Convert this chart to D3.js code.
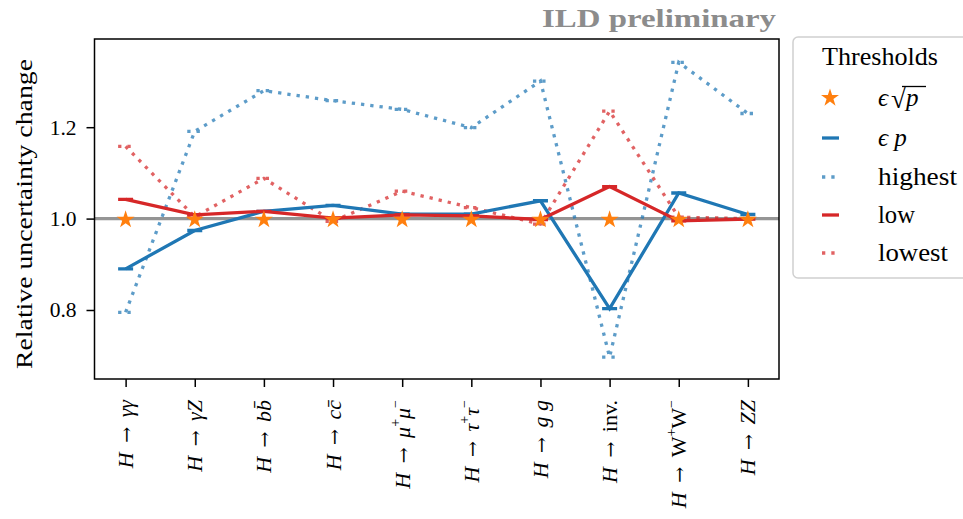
<!DOCTYPE html>
<html>
<head>
<meta charset="utf-8">
<script src="https://cdn.jsdelivr.net/npm/d3@7"></script>
<style>
  html, body { margin: 0; padding: 0; background: #fff; }
  svg { display: block; font-family: "Liberation Serif", "DejaVu Serif", serif; }
</style>
</head>
<body>
<svg id="chart" width="963" height="519"></svg>
<script>
// Higgs decay channels
const channels = [
  [["H", "i"], ["\u2002\u2192\u2002", "a"], ["\u03b3\u03b3", "i"]],
  [["H", "i"], ["\u2002\u2192\u2002", "a"], ["\u03b3Z", "i"]],
  [["H", "i"], ["\u2002\u2192\u2002", "a"], ["b", "i"], ["b\u0304", "i"]],
  [["H", "i"], ["\u2002\u2192\u2002", "a"], ["c", "i"], ["c\u0304", "i"]],
  [["H", "i"], ["\u2002\u2192\u2002", "a"], ["\u03bc", "i"], ["+", "sup"], ["\u03bc", "i"], ["\u2212", "sup"]],
  [["H", "i"], ["\u2002\u2192\u2002", "a"], ["\u03c4", "i"], ["+", "sup"], ["\u03c4", "i"], ["\u2212", "sup"]],
  [["H", "i"], ["\u2002\u2192\u2002", "a"], ["g g", "i"]],
  [["H", "i"], ["\u2002\u2192\u2002", "a"], ["inv.", "r"]],
  [["H", "i"], ["\u2002\u2192\u2002", "a"], ["W", "r"], ["+", "sup"], ["W", "r"], ["\u2212", "sup"]],
  [["H", "i"], ["\u2002\u2192\u2002", "a"], ["ZZ", "i"]]
];

// Relative uncertainty change per channel, for each threshold choice
const epsSqrtP = [1.0, 1.0, 1.0, 1.0, 1.0, 1.0, 1.0, 1.0, 1.0, 1.0];
const epsP     = [0.890, 0.974, 1.016, 1.029, 1.010, 1.010, 1.039, 0.803, 1.056, 1.009];
const highest  = [0.795, 1.191, 1.280, 1.258, 1.239, 1.199, 1.301, 0.697, 1.342, 1.230];
const low      = [1.042, 1.008, 1.016, 1.001, 1.008, 1.006, 0.998, 1.070, 0.995, 0.999];
const lowest   = [1.158, 1.004, 1.088, 0.994, 1.060, 1.024, 0.988, 1.235, 1.003, 1.000];

const yTicks = [0.8, 1.0, 1.2];
const yDomain = [0.649, 1.393];

const svg = d3.select("#chart");
const plot = { left: 94.5, right: 779, top: 39, bottom: 379 };

const x = d3.scaleLinear().domain([-0.45, channels.length - 1 + 0.45]).range([plot.left, plot.right]);
const y = d3.scaleLinear().domain(yDomain).range([plot.bottom, plot.top]);

const blue = "#1f77b4", red = "#d62728", orange = "#ff7f0e";

// clip region for data marks
svg.append("defs").append("clipPath").attr("id", "clip")
  .append("rect").attr("x", plot.left).attr("y", plot.top)
  .attr("width", plot.right - plot.left).attr("height", plot.bottom - plot.top);

const g = svg.append("g").attr("clip-path", "url(#clip)");

// reference line at unity
g.append("line")
  .attr("x1", plot.left).attr("x2", plot.right)
  .attr("y1", y(1)).attr("y2", y(1))
  .attr("stroke", "#8a8a8a").attr("stroke-width", 3.3).attr("opacity", 0.9);

const series = [
  { name: "highest", values: highest, color: blue, dash: "3.3,6", opacity: 0.72 },
  { name: "lowest",  values: lowest,  color: red,  dash: "3.3,6", opacity: 0.72 },
  { name: "epsP",    values: epsP,    color: blue, dash: null,    opacity: 1 },
  { name: "low",     values: low,     color: red,  dash: null,    opacity: 1 }
];

const line = d3.line().x((d, i) => x(i)).y(d => y(d));
const capHalf = 7.5;

series.forEach(s => {
  const sg = g.append("g").attr("opacity", s.opacity);
  sg.append("path")
    .attr("d", line(s.values))
    .attr("fill", "none")
    .attr("stroke", s.color)
    .attr("stroke-width", 3.3)
    .attr("stroke-dasharray", s.dash);
  // horizontal dash markers at each point
  sg.selectAll("line.cap").data(s.values).join("line")
    .attr("class", "cap")
    .attr("x1", (d, i) => x(i) - capHalf)
    .attr("x2", (d, i) => x(i) + capHalf)
    .attr("y1", d => y(d)).attr("y2", d => y(d))
    .attr("stroke", s.color)
    .attr("stroke-width", 3.3)
    .attr("stroke-dasharray", s.dash);
});

// star markers
const star = d3.symbol().type(d3.symbolStar).size(100);
g.selectAll("path.star").data(epsSqrtP).join("path")
  .attr("class", "star")
  .attr("d", star)
  .attr("transform", (d, i) => `translate(${x(i)},${y(d) + 1})`)
  .attr("fill", orange);

// frame
svg.append("rect")
  .attr("x", plot.left).attr("y", plot.top)
  .attr("width", plot.right - plot.left).attr("height", plot.bottom - plot.top)
  .attr("fill", "none").attr("stroke", "#000").attr("stroke-width", 1.5);

// y axis
const yAxis = svg.append("g").attr("transform", `translate(${plot.left},0)`)
  .call(d3.axisLeft(y).tickValues(yTicks).tickFormat(d3.format(".1f")).tickSize(8).tickPadding(10));
yAxis.select(".domain").remove();
yAxis.selectAll(".tick line").attr("stroke", "#000").attr("stroke-width", 1.5);
yAxis.selectAll(".tick text").attr("font-size", 21.5).attr("fill", "#000")
  .attr("font-family", "Liberation Serif");

// x axis ticks
const xAxis = svg.append("g").attr("transform", `translate(0,${plot.bottom})`)
  .call(d3.axisBottom(x).tickValues(d3.range(channels.length)).tickSize(8).tickFormat(""));
xAxis.select(".domain").remove();
xAxis.selectAll(".tick line").attr("stroke", "#000").attr("stroke-width", 1.5);

// rotated channel labels
channels.forEach((parts, i) => {
  const t = svg.append("text")
    .attr("transform", `translate(${x(i) + 7.5},${plot.bottom + 21}) rotate(-90)`)
    .attr("text-anchor", "end")
    .attr("font-size", 22)
    .attr("fill", "#000");
  let shifted = false;
  parts.forEach(([txt, style]) => {
    const sp = t.append("tspan").text(txt);
    if (style === "i") sp.attr("font-style", "italic");
    if (style === "a") sp.attr("font-family", "DejaVu Serif").attr("font-size", 19);
    if (style === "sup") {
      sp.attr("font-size", 14).attr("dy", -10);
      shifted = true;
    } else if (shifted) {
      sp.attr("dy", 10);
      shifted = false;
    }
  });
});

// y label
svg.append("text")
  .attr("transform", `translate(32,${(plot.top + plot.bottom) / 2 + 5}) rotate(-90)`)
  .attr("text-anchor", "middle")
  .attr("font-size", 24)
  .attr("textLength", 310)
  .attr("lengthAdjust", "spacingAndGlyphs")
  .attr("fill", "#000")
  .text("Relative uncertainty change");

// header
svg.append("text")
  .attr("x", 542).attr("y", 27)
  .attr("font-size", 26)
  .attr("font-weight", "bold")
  .attr("textLength", 234)
  .attr("lengthAdjust", "spacingAndGlyphs")
  .attr("fill", "#8c8c8c")
  .text("ILD preliminary");

// legend
const lg = svg.append("g");
lg.append("rect")
  .attr("x", 793).attr("y", 37).attr("width", 220).attr("height", 241).attr("rx", 5)
  .attr("fill", "#fff").attr("stroke", "#d0d0d0").attr("stroke-width", 1.5);
lg.append("text").attr("x", 822).attr("y", 65).attr("font-size", 25)
  .attr("textLength", 116).attr("lengthAdjust", "spacingAndGlyphs").text("Thresholds");

const rowsY = [98, 138, 177, 215, 253];
const legendItems = [
  { kind: "star" },
  { kind: "line", color: blue, dash: null, opacity: 1, label: "\u03f5p" },
  { kind: "line", color: blue, dash: "3.3,6", opacity: 0.72, label: "highest", len: 79 },
  { kind: "line", color: red, dash: null, opacity: 1, label: "low", len: 37 },
  { kind: "line", color: red, dash: "3.3,6", opacity: 0.72, label: "lowest", len: 70 }
];
const labelFont = 25;
legendItems.forEach((it, k) => {
  const cy = rowsY[k];
  if (it.kind === "star") {
    lg.append("path").attr("d", star).attr("transform", `translate(830,${cy})`).attr("fill", orange);
    lg.append("text").attr("x", 878).attr("y", cy + 8).attr("font-size", labelFont)
      .attr("font-style", "italic").text("\u03f5");
    lg.append("text").attr("x", 891).attr("y", cy + 10).attr("font-size", 27).text("\u221a");
    lg.append("text").attr("x", 906).attr("y", cy + 8).attr("font-size", labelFont)
      .attr("font-style", "italic").text("p");
    lg.append("line").attr("x1", 902).attr("x2", 926).attr("y1", cy - 11.5).attr("y2", cy - 11.5)
      .attr("stroke", "#000").attr("stroke-width", 1.3);
  } else {
    lg.append("line").attr("x1", 822).attr("x2", 839).attr("y1", cy).attr("y2", cy)
      .attr("stroke", it.color).attr("stroke-width", 3.3)
      .attr("stroke-dasharray", it.dash).attr("opacity", it.opacity);
    const tt = lg.append("text").attr("x", 878).attr("y", cy + 8).attr("font-size", labelFont);
    if (it.label === "\u03f5p") {
      tt.attr("font-style", "italic").text("\u03f5 p");
    } else {
      tt.attr("textLength", it.len).attr("lengthAdjust", "spacingAndGlyphs").text(it.label);
    }
  }
});
</script>
</body>
</html>
